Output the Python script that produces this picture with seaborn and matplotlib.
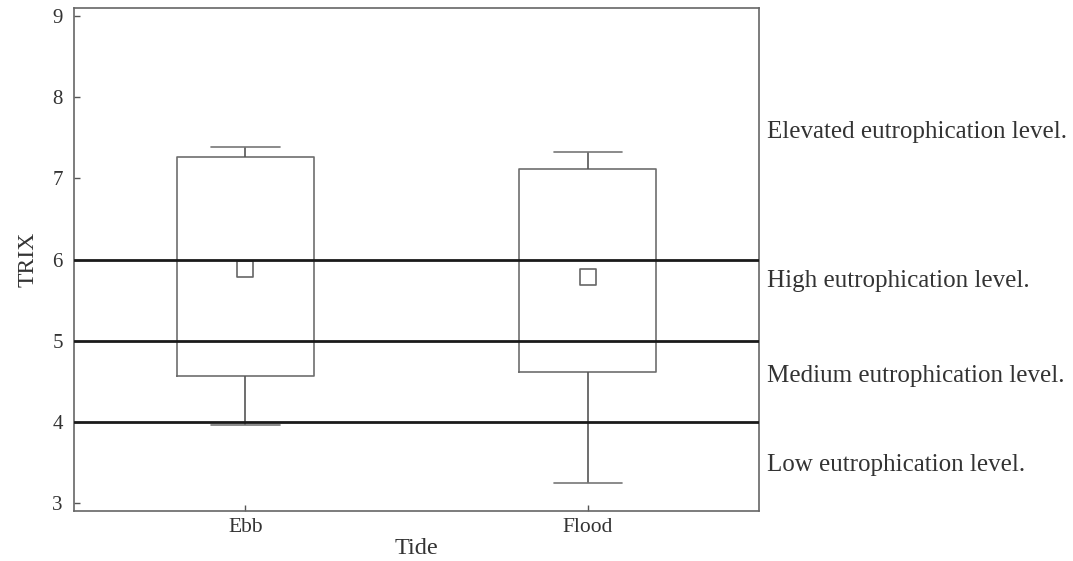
import numpy as np
import pandas as pd
import matplotlib
matplotlib.use("Agg")
import matplotlib.pyplot as plt
import matplotlib.transforms as mtransforms
import seaborn as sns

# ---- data ----
categories = ["Ebb", "Flood"]
means = [5.88, 5.79]
box_low = [4.57, 4.61]     # mean - SD
box_high = [7.27, 7.12]    # mean + SD
whisk_low = [3.96, 3.25]   # min
whisk_high = [7.39, 7.32]  # max
thresholds = [4, 5, 6]
level_labels = ["Low eutrophication level.", "Medium eutrophication level.",
                "High eutrophication level.", "Elevated eutrophication level."]
level_label_y = [3.47, 4.57, 5.73, 7.57]
y_ticks = [3, 4, 5, 6, 7, 8, 9]

# long-form table: five summary values per category -> box from 2nd to 4th, whiskers to min/max
rows = []
for c, wl, bl, m, bh, wh in zip(categories, whisk_low, box_low, means, box_high, whisk_high):
    for v in (wl, bl, m, bh, wh):
        rows.append({"Tide": c, "TRIX": v})
df = pd.DataFrame(rows)
mean_df = pd.DataFrame({"Tide": categories, "TRIX": means})

sns.set_style("white")
plt.rcParams["font.family"] = ["Liberation Serif", "DejaVu Serif"]

fig = plt.figure(figsize=(10.73, 5.61), dpi=100)
ax = fig.add_axes([0.069, 0.089, 0.6384, 0.8967])

box_c = "#6e6e6e"
sns.boxplot(data=df, x="Tide", y="TRIX", order=categories, whis=np.inf, width=0.4,
            fill=False, color=box_c, linewidth=1.2,
            medianprops=dict(linewidth=0, alpha=0),
            boxprops=dict(color=box_c), whiskerprops=dict(color="#555555"),
            capprops=dict(color="#777777"), ax=ax, zorder=2)

sns.scatterplot(data=mean_df, x="Tide", y="TRIX", marker="s", s=120,
                facecolor="white", edgecolor="#666666", linewidth=1.2, ax=ax, zorder=3,
                legend=False)

for t in thresholds:
    ax.axhline(t, color="#1a1a1a", linewidth=2.0, zorder=4)

ax.set_xlim(-0.5, 1.5)
ax.set_ylim(2.9, 9.1)
ax.set_yticks(y_ticks)
ax.set_yticklabels([str(t) for t in y_ticks])
ax.set_xlabel("Tide", fontsize=17.5, labelpad=1, color="#333333")
ax.set_ylabel("TRIX", fontsize=17, labelpad=10, color="#333333")
ax.tick_params(axis="both", direction="in", length=4, width=1, colors="#555555",
               labelcolor="#333333")
ax.tick_params(axis="y", labelsize=15, pad=8)
ax.tick_params(axis="x", labelsize=15.5, pad=5)
ax.tick_params(left=True, bottom=True)
for s in ax.spines.values():
    s.set_color("#666666")
    s.set_linewidth(1.2)

trans = mtransforms.blended_transform_factory(ax.transAxes, ax.transData)
for lab, yv in zip(level_labels, level_label_y):
    ax.text(1.012, yv, lab, transform=trans, ha="left", va="center",
            fontsize=18, color="#333333", clip_on=False)

fig.savefig("out.png", dpi=100, facecolor="white")
